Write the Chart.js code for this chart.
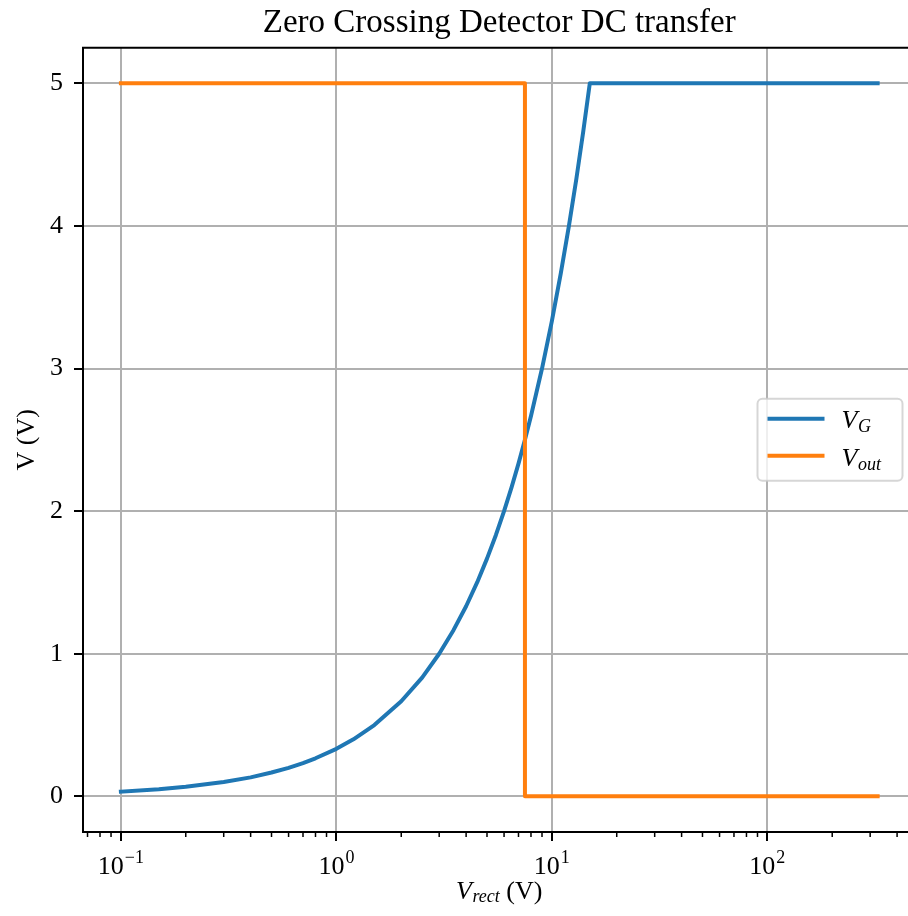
<!DOCTYPE html>
<html>
<head>
<meta charset="utf-8">
<script src="https://cdn.jsdelivr.net/npm/chart.js@4.4.1/dist/chart.umd.min.js"></script>
<style>
  html, body { margin: 0; padding: 0; background: #fff; overflow: hidden; }
  /* figure is a bit wider than the window: the right spine falls off the edge, as in the original */
  #wrap { width: 920px; height: 916px; position: relative; }
</style>
</head>
<body>
<div id="wrap"><canvas id="chart"></canvas></div>
<script>
// ── Data ──────────────────────────────────────────────────────
const vRect = [0.1, 0.15, 0.2, 0.3, 0.4, 0.5, 0.6, 0.7, 0.8, 1.0, 1.2, 1.5, 2, 2.5, 3, 3.5, 4,
               4.5, 5, 5.5, 6, 6.5, 7, 7.5, 8, 9, 10, 11, 12, 13, 14, 15, 20, 50, 100, 200, 325];
const vG    = [0.033, 0.05, 0.067, 0.1, 0.133, 0.167, 0.2, 0.233, 0.267, 0.333, 0.4, 0.5, 0.667,
               0.833, 1.0, 1.167, 1.333, 1.5, 1.667, 1.833, 2.0, 2.167, 2.333, 2.5, 2.667, 3.0,
               3.333, 3.667, 4.0, 4.333, 4.667, 5.0, 5, 5, 5, 5, 5];
const vOutX = [0.1, 7.5, 7.5, 325];
const vOut  = [5, 5, 0, 0];

const xMajorTicks = [0.1, 1, 10, 100];
const xMinorTicks = [0.07, 0.08, 0.09, 0.2, 0.3, 0.4, 0.5, 0.6, 0.7, 0.8, 0.9,
                     2, 3, 4, 5, 6, 7, 8, 9, 20, 30, 40, 50, 60, 70, 80, 90, 200, 300, 400];
const yTicks = [0, 1, 2, 3, 4, 5];

// ── Style ─────────────────────────────────────────────────────
const SERIF  = '"Liberation Serif", "DejaVu Serif", serif';
const BLUE   = '#1f77b4';
const ORANGE = '#ff7f0e';
const GRID   = '#b0b0b0';
const FS     = 26;   // tick / label font size
const FS_SUB = 18;   // sub/superscript size
const LW     = 4;    // data line width

Chart.defaults.color = '#000';
Chart.defaults.font.family = SERIF;

/** Draws italic "V" with an italic subscript; returns the advance width. */
function mathV(ctx, sub, x, y, measureOnly) {
  ctx.font = `italic ${FS}px ${SERIF}`;
  const wv = ctx.measureText('V').width;
  ctx.font = `italic ${FS_SUB}px ${SERIF}`;
  const ws = ctx.measureText(sub).width;
  if (!measureOnly) {
    ctx.font = `italic ${FS}px ${SERIF}`;
    ctx.fillText('V', x, y);
    ctx.font = `italic ${FS_SUB}px ${SERIF}`;
    ctx.fillText(sub, x + wv + 0.5, y + 3.5);
  }
  return wv + 0.5 + ws;
}

// matplotlib-ish decorations: spines, minor ticks, 10^n labels, x label, legend
const mplDecor = {
  id: 'mplDecor',
  afterDatasetsDraw(chart) {
    const { ctx, chartArea: a, scales: { x } } = chart;
    ctx.save();

    // top + right spines
    ctx.strokeStyle = '#000';
    ctx.lineWidth = 2;
    ctx.beginPath();
    ctx.moveTo(a.left - 1, a.top);
    ctx.lineTo(a.right, a.top);
    ctx.lineTo(a.right, a.bottom + 1);
    ctx.stroke();

    // minor x ticks
    ctx.lineWidth = 1.5;
    ctx.beginPath();
    xMinorTicks.forEach(v => {
      const px = x.getPixelForValue(v);
      if (px < a.left || px > a.right) return;
      ctx.moveTo(px, a.bottom);
      ctx.lineTo(px, a.bottom + 5);
    });
    ctx.stroke();

    // major tick labels 10^n
    ctx.fillStyle = '#000';
    ctx.textBaseline = 'alphabetic';
    ctx.textAlign = 'left';
    const baseY = a.bottom + 42;
    xMajorTicks.forEach(v => {
      const exp = Math.round(Math.log10(v));
      const sup = exp < 0 ? '\u2212' + (-exp) : String(exp);
      ctx.font = `${FS}px ${SERIF}`;
      const wb = ctx.measureText('10').width;
      ctx.font = `${FS_SUB}px ${SERIF}`;
      const ws = ctx.measureText(sup).width;
      const px = x.getPixelForValue(v);
      const left = px - (wb + 1 + ws) / 2;
      ctx.font = `${FS}px ${SERIF}`;
      ctx.fillText('10', left, baseY);
      ctx.font = `${FS_SUB}px ${SERIF}`;
      ctx.fillText(sup, left + wb + 1, baseY - 11.5);
    });

    // x axis label: V_rect (V)
    const tail = ' (V)';
    const wm = mathV(ctx, 'rect', 0, 0, true);
    ctx.font = `${FS}px ${SERIF}`;
    const wt = ctx.measureText(tail).width;
    const lx = (a.left + a.right) / 2 - (wm + wt) / 2;
    const ly = a.bottom + 66.5;
    mathV(ctx, 'rect', lx, ly);
    ctx.font = `${FS}px ${SERIF}`;
    ctx.fillText(tail, lx + wm, ly);

    // legend, 'center right'
    const boxW = 145, boxH = 82;
    const bx = a.right - 13 - boxW;
    const by = (a.top + a.bottom) / 2 - boxH / 2;
    ctx.beginPath();
    ctx.roundRect(bx, by, boxW, boxH, 5);
    ctx.fillStyle = 'rgba(255,255,255,0.8)';
    ctx.fill();
    ctx.strokeStyle = 'rgba(204,204,204,0.8)';
    ctx.lineWidth = 2;
    ctx.stroke();

    const rows = [
      { color: BLUE,   sub: 'G',   lineY: 20, textY: 29.5 },
      { color: ORANGE, sub: 'out', lineY: 57, textY: 67.5 },
    ];
    rows.forEach(r => {
      ctx.strokeStyle = r.color;
      ctx.lineWidth = LW;
      ctx.lineCap = 'square';
      ctx.beginPath();
      ctx.moveTo(bx + 12, by + r.lineY);
      ctx.lineTo(bx + 65, by + r.lineY);
      ctx.stroke();
      ctx.fillStyle = '#000';
      mathV(ctx, r.sub, bx + 84, by + r.textY);
    });

    ctx.restore();
  },
};

const pts = (xs, ys) => xs.map((v, i) => ({ x: v, y: ys[i] }));

new Chart(document.getElementById('chart'), {
  type: 'line',
  data: {
    datasets: [
      {
        label: 'V_G',
        data: pts(vRect, vG),
        borderColor: BLUE,
        borderWidth: LW,
        borderCapStyle: 'square',
        borderJoinStyle: 'round',
        pointRadius: 0,
        fill: false,
        tension: 0,
        order: 1,
      },
      {
        label: 'V_out',
        data: pts(vOutX, vOut),
        borderColor: ORANGE,
        borderWidth: LW,
        borderCapStyle: 'square',
        borderJoinStyle: 'round',
        pointRadius: 0,
        fill: false,
        tension: 0,
        order: 0,
      },
    ],
  },
  options: {
    animation: false,
    responsive: true,
    maintainAspectRatio: false,
    devicePixelRatio: 1,
    events: [],
    layout: { padding: { top: 0, left: 0, right: 4.5, bottom: 0 } },
    plugins: {
      legend: { display: false },
      tooltip: { enabled: false },
      title: {
        display: true,
        text: 'Zero Crossing Detector DC transfer',
        fullSize: false,
        color: '#000',
        font: { family: SERIF, size: 33, weight: 'normal', lineHeight: 1 },
        padding: { top: 6.5, bottom: 8.2 },
      },
    },
    scales: {
      x: {
        type: 'logarithmic',
        min: 0.0667,
        max: 487,
        afterBuildTicks: s => { s.ticks = xMajorTicks.map(v => ({ value: v })); },
        afterFit: s => { s.height = 84; },
        ticks: { display: false },
        grid: { color: GRID, lineWidth: 2, tickColor: '#000', tickWidth: 2, tickLength: 9 },
        border: { display: true, color: '#000', width: 2 },
      },
      y: {
        type: 'linear',
        min: -0.25,
        max: 5.25,
        afterBuildTicks: s => { s.ticks = yTicks.map(v => ({ value: v })); },
        afterFit: s => { s.width = 83; },
        ticks: {
          color: '#000',
          padding: 11,
          font: { family: SERIF, size: FS },
          callback: v => String(v),
        },
        grid: { color: GRID, lineWidth: 2, tickColor: '#000', tickWidth: 2, tickLength: 9 },
        border: { display: true, color: '#000', width: 2 },
        title: {
          display: true,
          text: 'V (V)',
          color: '#000',
          font: { family: SERIF, size: FS, lineHeight: 1.2 },
          padding: { top: 12, bottom: 0 },
        },
      },
    },
  },
  plugins: [mplDecor],
});
</script>
</body>
</html>
